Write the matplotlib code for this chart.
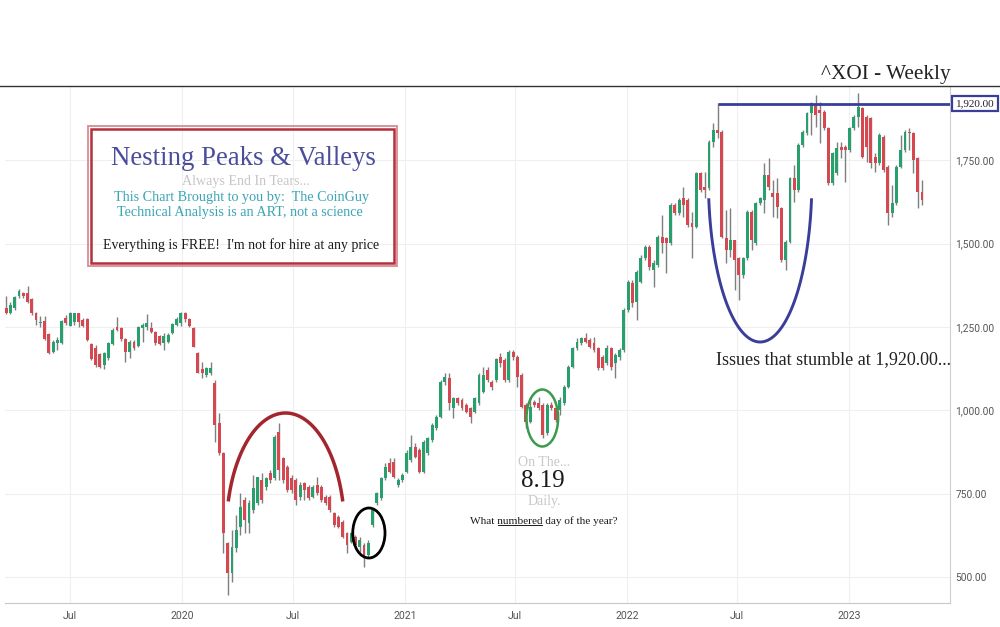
import matplotlib
matplotlib.use('Agg')
import matplotlib.pyplot as plt
import matplotlib.dates as mdates
import matplotlib.transforms as mtransforms
from matplotlib.patches import Rectangle, Ellipse
from matplotlib.lines import Line2D
from matplotlib.ticker import FuncFormatter
import numpy as np
import pandas as pd

SERIF = 'Liberation Serif'

# weekly ^XOI candles (first week 2019-03-18)
opens = [1306, 1293, 1306, 1343, 1353, 1353, 1333, 1293, 1261, 1269,
         1229, 1176, 1201, 1201, 1276, 1253, 1266, 1291, 1271, 1273,
         1199, 1186, 1169, 1136, 1156, 1199, 1251, 1246, 1213, 1176,
         1206, 1193, 1246, 1249, 1246, 1236, 1223, 1201, 1206, 1233,
         1256, 1261, 1291, 1273, 1246, 1173, 1123, 1106, 1113, 1081,
         961, 873, 601, 511, 586, 651, 731, 661, 701, 721,
         791, 771, 811, 796, 935, 856, 831, 796, 791, 741,
         781, 771, 741, 776, 771, 741, 741, 691, 681, 666,
         631, 606, 621, 591, 596, 566, 656, 721, 736, 796,
         841, 846, 776, 791, 816, 851, 891, 881, 816, 871,
         911, 946, 981, 1086, 1096, 1006, 1036, 1031, 1016, 1006,
         996, 1021, 1056, 1121, 1086, 1091, 1161, 1151, 1091, 1176,
         1161, 1106, 1016, 966, 1026, 1021, 1016, 931, 1016, 1006,
         1001, 1021, 1071, 1131, 1186, 1201, 1216, 1211, 1201, 1186,
         1161, 1141, 1186, 1141, 1161, 1181, 1301, 1381, 1326,
         1386, 1456, 1491, 1421, 1436, 1521, 1516, 1501, 1616, 1591,
         1636, 1631, 1561, 1551, 1711, 1671, 1666, 1806, 1841, 1836,
         1516, 1481, 1511, 1456, 1406, 1456, 1596, 1501, 1621, 1631,
         1706, 1651, 1651, 1606, 1451, 1506, 1696, 1661, 1796, 1831,
         1891, 1916, 1901, 1896, 1846, 1681, 1711, 1791, 1791, 1781,
         1846, 1881, 1906, 1881, 1876, 1761, 1741, 1821, 1731, 1591,
         1621, 1731, 1781, 1836, 1831, 1756, 1656]
highs = [1343, 1326, 1343, 1363, 1356, 1373, 1336, 1296, 1283, 1283,
         1231, 1211, 1221, 1271, 1286, 1296, 1291, 1291, 1276, 1276,
         1201, 1196, 1171, 1176, 1206, 1246, 1279, 1251, 1216, 1211,
         1211, 1253, 1261, 1289, 1266, 1239, 1226, 1231, 1231, 1263,
         1279, 1296, 1296, 1276, 1249, 1176, 1146, 1131, 1146, 1091,
         991, 876, 606, 641, 686, 751, 741, 731, 806, 801,
         811, 801, 821, 926, 961, 861, 836, 806, 796, 786,
         786, 776, 776, 801, 776, 746, 746, 696, 686, 671,
         636, 636, 626, 621, 601, 611, 706, 756, 801, 841,
         856, 856, 796, 811, 881, 926, 901, 886, 911, 921,
         961, 986, 1091, 1111, 1111, 1041, 1041, 1036, 1021, 1011,
         1041, 1111, 1131, 1131, 1091, 1156, 1171, 1156, 1181, 1181,
         1166, 1111, 1021, 1041, 1031, 1041, 1021, 1021, 1026, 1011,
         1041, 1076, 1136, 1191, 1216, 1221, 1231, 1216, 1221, 1191,
         1166, 1196, 1191, 1171, 1186, 1306, 1391, 1391, 1421,
         1466, 1496, 1496, 1451, 1526, 1586, 1521, 1621, 1621, 1636,
         1671, 1636, 1596, 1716, 1716, 1716, 1811, 1861, 1921, 1841,
         1601, 1606, 1511, 1461, 1461, 1601, 1601, 1626, 1641, 1741,
         1756, 1691, 1696, 1611, 1511, 1701, 1736, 1801, 1841, 1896,
         1926, 1946, 1926, 1901, 1851, 1776, 1806, 1806, 1796, 1851,
         1886, 1951, 1911, 1886, 1881, 1771, 1831, 1826, 1736, 1676,
         1736, 1826, 1841, 1846, 1836, 1761, 1691]
lows = [1290, 1289, 1301, 1336, 1338, 1321, 1286, 1256, 1251, 1211,
        1169, 1171, 1181, 1199, 1256, 1253, 1256, 1251, 1249, 1209,
        1151, 1131, 1126, 1123, 1151, 1196, 1239, 1209, 1146, 1156,
        1181, 1189, 1206, 1241, 1233, 1196, 1196, 1181, 1201, 1229,
        1253, 1253, 1266, 1249, 1189, 1111, 1096, 1101, 1106, 906,
        866, 571, 446, 486, 576, 626, 631, 631, 691, 716,
        721, 761, 781, 791, 791, 781, 756, 751, 716, 731,
        731, 731, 736, 746, 726, 716, 696, 651, 646, 616,
        571, 601, 591, 576, 531, 556, 651, 716, 731, 791,
        811, 796, 771, 786, 811, 846, 856, 811, 811, 866,
        906, 941, 976, 1076, 1001, 976, 1016, 1001, 991, 961,
        991, 1016, 1051, 1086, 1061, 1086, 1131, 1086, 1086, 1151,
        1071, 1006, 946, 961, 1011, 1001, 916, 926, 1001, 966,
        986, 1016, 1066, 1126, 1181, 1196, 1201, 1186, 1176, 1121,
        1121, 1136, 1121, 1096, 1151, 1176, 1296, 1311, 1271,
        1381, 1451, 1421, 1371, 1431, 1471, 1411, 1496, 1586, 1586,
        1581, 1551, 1456, 1546, 1656, 1636, 1661, 1791, 1816, 1516,
        1441, 1461, 1361, 1331, 1396, 1451, 1481, 1496, 1616, 1591,
        1661, 1581, 1576, 1446, 1421, 1501, 1626, 1656, 1791, 1826,
        1826, 1851, 1801, 1841, 1676, 1676, 1706, 1756, 1686, 1776,
        1841, 1851, 1756, 1746, 1726, 1716, 1736, 1716, 1556, 1581,
        1616, 1726, 1776, 1781, 1711, 1606, 1616]
closes = [1293, 1316, 1339, 1359, 1343, 1326, 1291, 1271, 1266, 1213,
          1171, 1206, 1211, 1269, 1261, 1291, 1291, 1266, 1253, 1211,
          1153, 1136, 1129, 1171, 1201, 1241, 1241, 1213, 1176, 1206,
          1186, 1251, 1256, 1263, 1236, 1201, 1199, 1223, 1226, 1259,
          1273, 1291, 1273, 1253, 1191, 1113, 1111, 1126, 1126, 956,
          871, 631, 511, 591, 641, 711, 671, 721, 766, 801,
          731, 796, 791, 921, 821, 791, 761, 761, 731, 776,
          761, 736, 771, 751, 731, 721, 701, 656, 651, 621,
          596, 631, 596, 611, 561, 601, 701, 751, 796, 831,
          816, 801, 791, 806, 871, 891, 861, 816, 906, 916,
          956, 981, 1086, 1101, 1021, 1036, 1021, 1006, 996, 981,
          1036, 1106, 1106, 1091, 1071, 1153, 1141, 1091, 1176, 1161,
          1101, 1011, 966, 1011, 1016, 1006, 926, 1016, 1006, 971,
          1031, 1071, 1131, 1186, 1206, 1216, 1206, 1191, 1181, 1126,
          1126, 1186, 1131, 1166, 1181, 1301, 1386, 1321, 1416,
          1456, 1491, 1431, 1441, 1521, 1501, 1501, 1616, 1591, 1631,
          1616, 1556, 1551, 1711, 1661, 1661, 1806, 1841, 1833, 1521,
          1481, 1511, 1451, 1406, 1456, 1596, 1511, 1621, 1636, 1706,
          1671, 1641, 1611, 1451, 1506, 1696, 1661, 1796, 1836, 1891,
          1921, 1886, 1891, 1846, 1681, 1771, 1786, 1781, 1781, 1846,
          1881, 1911, 1761, 1791, 1741, 1741, 1826, 1721, 1591, 1621,
          1731, 1781, 1836, 1831, 1751, 1656, 1631]

y_ticks = [500, 750, 1000, 1250, 1500, 1750]
resistance = 1920

GREEN = '#28a06e'
RED = '#d6474f'
BLUE = '#3b3e98'
W, H = 1000, 627


def fp(x, y):
    return x / W, 1 - y / H


dates = pd.date_range('2019-03-18', periods=len(closes), freq='7D')
x = mdates.date2num(dates)
o = np.array(opens)
h = np.array(highs)
l = np.array(lows)
c = np.array(closes)
colors = np.where(c >= o, GREEN, RED)

fig = plt.figure(figsize=(10, 6.27), dpi=100)
ax = fig.add_axes([0.005, 24 / H, 0.945, (603 - 86) / H])

ax.vlines(x, l, h, color='#7f7f7f', lw=1, zorder=2)
ax.bar(x, np.maximum(np.abs(c - o), 3), bottom=np.minimum(o, c), width=4.8,
       color=colors, linewidth=0, zorder=3)

ax.set_xlim(mdates.date2num(pd.Timestamp('2019-03-16')),
            mdates.date2num(pd.Timestamp('2023-06-16')))
ax.set_ylim(422, 1973)

ax.xaxis.set_major_locator(mdates.MonthLocator(bymonth=[1, 7]))
ax.xaxis.set_major_formatter(FuncFormatter(
    lambda v, p: 'Jul' if mdates.num2date(v).month == 7 else str(mdates.num2date(v).year)))
ax.yaxis.tick_right()
ax.set_yticks(y_ticks)
ax.yaxis.set_major_formatter(FuncFormatter(lambda v, p: '{:,.2f}'.format(v)))
ax.tick_params(axis='both', length=0, labelcolor='#555555')
ax.tick_params(axis='x', pad=6, labelsize=7.6)
ax.tick_params(axis='y', pad=4, labelsize=7.3)
for lab in ax.get_xticklabels() + ax.get_yticklabels():
    lab.set_family('Roboto')
ax.grid(True, color='#efefef', lw=0.8, zorder=0)
for s in ['left', 'top']:
    ax.spines[s].set_visible(False)
ax.spines['right'].set_color('#cfcfcf')
ax.spines['bottom'].set_color('#c8c8c8')

# resistance line + boxed label
ax.hlines(resistance, mdates.date2num(pd.Timestamp('2022-05-31')), ax.get_xlim()[1],
          color=BLUE, lw=2, zorder=4)
trans = mtransforms.blended_transform_factory(ax.transAxes, ax.transData)
ax.text(1.0265, resistance, '{:,.2f}'.format(resistance), transform=trans, ha='center',
        va='center', fontsize=8, family=SERIF, color='#222222', clip_on=False,
        bbox=dict(boxstyle='square,pad=0.3', fc='white', ec=BLUE, lw=1.6))

# hand drawn marks
t = np.radians(np.linspace(15, 165, 120))
cx = mdates.date2num(pd.Timestamp('2020-06-19'))
ax.plot(cx + 97 * np.cos(t), 641 + 351 * np.sin(t), color='#a3262f', lw=2.5, zorder=5)
t = np.radians(np.linspace(187, 353, 120))
cx = mdates.date2num(pd.Timestamp('2022-08-08'))
ax.plot(cx + 85 * np.cos(t), 1691 + 486 * np.sin(t), color=BLUE, lw=2.1, zorder=5)
ax.add_patch(Ellipse((mdates.date2num(pd.Timestamp('2020-11-03')), 632), 53, 150,
                     fill=False, ec='black', lw=2, zorder=5))
ax.add_patch(Ellipse((mdates.date2num(pd.Timestamp('2021-08-15')), 977), 52, 171,
                     fill=False, ec='#3c9a4c', lw=1.8, zorder=5))

# title + rule
fig.add_artist(Line2D([0, 1], [1 - 86 / H] * 2, color='#333333', lw=1))
fig.text(*fp(886, 74), '^XOI - Weekly', ha='center', va='center', fontsize=15.3,
         family=SERIF, color='#222222')

# info box
for (x0, y0, x1, y1), col, lw in [((88, 126, 397, 266), '#d98a92', 1.3),
                                  ((91, 129, 394, 263), '#b3303c', 1.8)]:
    fig.add_artist(Rectangle((x0 / W, 1 - y1 / H), (x1 - x0) / W, (y1 - y0) / H,
                             transform=fig.transFigure, fill=False, ec=col, lw=lw))
fig.text(*fp(243, 158), 'Nesting Peaks & Valleys', ha='center', va='center',
         fontsize=19.3, family=SERIF, color='#4a4d9c')
fig.text(*fp(246, 181), 'Always End In Tears...', ha='center', va='center',
         fontsize=10.1, family=SERIF, color='#c6c6c6')
fig.text(*fp(242, 197), 'This Chart Brought to you by:  The CoinGuy', ha='center',
         va='center', fontsize=10.2, family=SERIF, color='#3aa5b5')
fig.text(*fp(240, 212), 'Technical Analysis is an ART, not a science', ha='center',
         va='center', fontsize=10.2, family=SERIF, color='#3aa5b5')
fig.text(*fp(241, 245), "Everything is FREE!  I'm not for hire at any price", ha='center',
         va='center', fontsize=10, family=SERIF, color='#1a1a1a')

# notes
fig.text(*fp(833, 360), 'Issues that stumble at 1,920.00...', ha='center', va='center',
         fontsize=13, family=SERIF, color='#222222')
fig.text(*fp(544, 462), 'On The...', ha='center', va='center', fontsize=10,
         family=SERIF, color='#c8c8c8')
fig.text(*fp(543, 481), '8.19', ha='center', va='center', fontsize=18,
         family=SERIF, color='#1a1a1a')
fig.text(*fp(544, 502), 'Daily.', ha='center', va='center', fontsize=10,
         family=SERIF, color='#c8c8c8')

# question line with "numbered" underlined
q_kw = dict(fontsize=8.1, family=SERIF, color='#1a1a1a', va='center')
q = fig.text(*fp(544, 521), 'What numbered day of the year?', ha='center', **q_kw)
fig.canvas.draw()
r = fig.canvas.get_renderer()
full = q.get_window_extent(r)
pre = fig.text(0, 0, 'What ', ha='left', **q_kw)
mid = fig.text(0, 0, 'What numbered', ha='left', **q_kw)
x_a = full.x0 + pre.get_window_extent(r).width
x_b = full.x0 + mid.get_window_extent(r).width
pre.remove()
mid.remove()
y_u = full.y0 + 1
fig.add_artist(Line2D([x_a / W + 0.001, x_b / W - 0.001], [y_u / H, y_u / H],
                      transform=fig.transFigure, color='#1a1a1a', lw=0.7))

fig.savefig('out.png', dpi=100, facecolor='white')
